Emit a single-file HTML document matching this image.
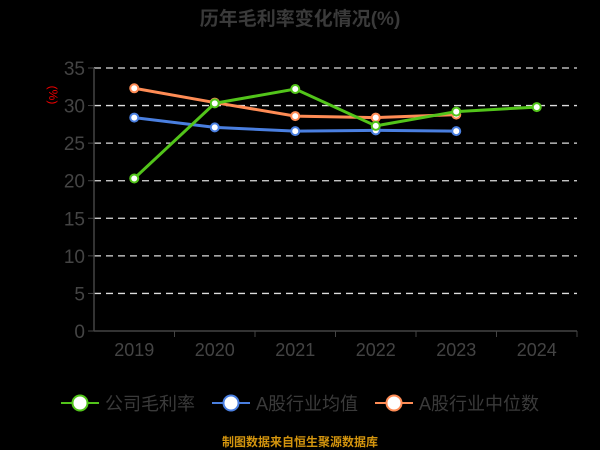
<!DOCTYPE html>
<html><head><meta charset="utf-8"><style>
body{margin:0;background:#000;}
svg{display:block;font-family:"Liberation Sans","Noto Sans CJK SC",sans-serif;}
</style></head><body>
<svg id="c" width="600" height="450">
<text x="300" y="25" text-anchor="middle" font-size="19" font-weight="bold" fill="#3a3a3a">历年毛利率变化情况(%)</text>
<text transform="translate(49,95) rotate(90)" text-anchor="middle" font-size="12" fill="#e00">(%)</text>
<g id="grid"></g><g id="axes"></g><g id="series"></g>
<g>
<g><line x1="61" y1="403" x2="99" y2="403" stroke="#52c41a" stroke-width="2"/><circle cx="80" cy="403" r="7.5" fill="#fff" stroke="#52c41a" stroke-width="2"/><text x="105" y="410" font-size="18" fill="#3a3a3a">公司毛利率</text></g>
<g><line x1="212" y1="403" x2="250" y2="403" stroke="#4a7fe0" stroke-width="2"/><circle cx="231" cy="403" r="7.5" fill="#fff" stroke="#4a7fe0" stroke-width="2"/><text x="256" y="410" font-size="18" fill="#3a3a3a">A股行业均值</text></g>
<g><line x1="375" y1="403" x2="413" y2="403" stroke="#ff8c55" stroke-width="2"/><circle cx="394" cy="403" r="7.5" fill="#fff" stroke="#ff8c55" stroke-width="2"/><text x="419" y="410" font-size="18" fill="#3a3a3a">A股行业中位数</text></g>
</g>
<text x="300" y="446" text-anchor="middle" font-size="12" font-weight="bold" fill="#d4950e">制图数据来自恒生聚源数据库</text>
</svg>
<script>
const categories=["2019","2020","2021","2022","2023","2024"];
const yTicks=[0,5,10,15,20,25,30,35];
const companyValues=[20.3,30.3,32.2,27.3,29.2,29.8];
const industryMean=[28.4,27.1,26.6,26.7,26.6];
const industryMedian=[32.3,30.4,28.6,28.4,28.8];
const NS="http://www.w3.org/2000/svg";
const L=94,R=577,T=68,B=331;
const bw=(R-L)/categories.length;
const x=i=>L+bw*(i+0.5);
const y=v=>B-(v/35)*(B-T);
function mk(tag,attrs,parent){const e=document.createElementNS(NS,tag);for(const k in attrs)e.setAttribute(k,attrs[k]);parent.appendChild(e);return e;}
const grid=document.getElementById('grid'),axes=document.getElementById('axes'),ser=document.getElementById('series');
yTicks.forEach(t=>{
 if(t>0){const g=mk('line',{x1:L,x2:R,y1:y(t),y2:y(t),stroke:'#ddd','stroke-dasharray':'7,5','stroke-width':1.3},grid);
 
 }
 const tk=mk('line',{x1:L-6,x2:L,y1:y(t),y2:y(t),stroke:'#444'},axes);
 
 
 const tl=mk('text',{x:L-9,y:y(t)+7,'text-anchor':'end','font-size':19,fill:'#444'},axes);tl.textContent=t;
 
 
});
const ya=mk('line',{x1:L,x2:L,y1:T,y2:B,stroke:'#444','stroke-width':1.5},axes);


const xa=mk('line',{x1:L,x2:R,y1:B,y2:B,stroke:'#444','stroke-width':1.5},axes);


categories.forEach((c,i)=>{
 const tk=mk('line',{x1:L+bw*(i+1),x2:L+bw*(i+1),y1:B,y2:B+6,stroke:'#444'},axes);
 
 
 const t=mk('text',{x:x(i),y:B+25,'text-anchor':'middle','font-size':18,fill:'#444'},axes);t.textContent=c;
 
 
});
function series(vals,color,name){
 const p=mk('polyline',{points:vals.map((v,i)=>x(i)+','+y(v)).join(' '),fill:'none',stroke:color,'stroke-width':3},ser);
 
 
 vals.forEach((v,i)=>{const c=mk('circle',{cx:x(i),cy:y(v),r:4,fill:'#fff',stroke:color,'stroke-width':2},ser);
 
 });
}
series(industryMean,'#4a7fe0','industry-mean');
series(industryMedian,'#ff8c55','industry-median');
series(companyValues,'#52c41a','company');
</script>
</body></html>
